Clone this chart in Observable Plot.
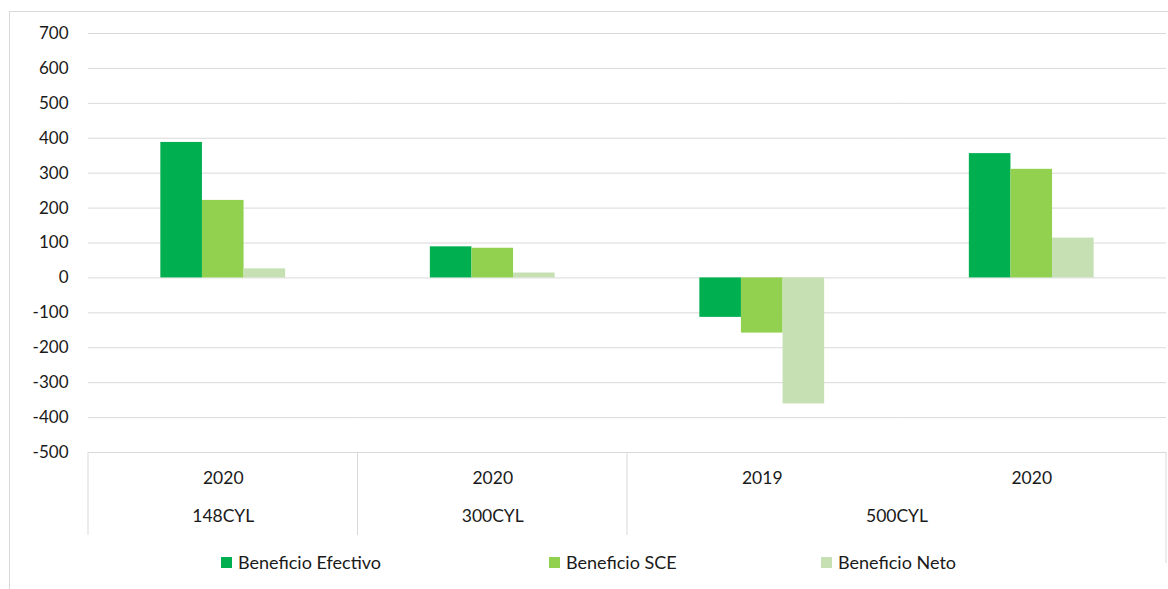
<!DOCTYPE html>
<html><head><meta charset="utf-8">
<script src="https://cdn.jsdelivr.net/npm/d3@7"></script>
<script src="https://cdn.jsdelivr.net/npm/@observablehq/plot@0.6"></script>
<style>
body{margin:0;background:#fff;font-family:Lato,"Open Sans",sans-serif;}
#wrap{position:relative;width:1168px;height:589px;overflow:hidden;}
#border{position:absolute;left:9px;top:11px;width:1300px;height:700px;border-left:1px solid #d9d9d9;border-top:1px solid #d9d9d9;}
#chart{position:absolute;left:0;top:0;}
#legend{position:absolute;left:221px;top:550px;display:flex;font-size:18px;color:#1a1a1a;line-height:24px;}
.item{display:flex;align-items:center;}
.sw{width:11px;height:11px;margin-right:6px;}
</style></head>
<body><div id="wrap"><div id="border"></div><div id="chart"></div><div id="legend"></div></div>
<script>
const groups = ["148CYL","300CYL","500CYL","500CYL"];
const years = ["2020","2020","2019","2020"];
const seriesNames = ["Beneficio Efectivo","Beneficio SCE","Beneficio Neto"];
const efectivo = [388, 89, -113, 356];
const sce = [222, 85, -158, 311];
const neto = [26, 14, -361, 114];
const yTicks = [-500,-400,-300,-200,-100,0,100,200,300,400,500,600,700];
const colors = ["#00B050","#92D050","#C6E0B4"];

const keys = groups.map((g,i)=>g+" "+years[i]);
const values = [efectivo, sce, neto];
const data = [];
keys.forEach((k,i)=>seriesNames.forEach((s,j)=>data.push({key:k, series:s, value:values[j][i]})));
const yearLabels = keys.map((k,i)=>({key:k, label:years[i]}));
const spans = [];
groups.forEach((g,i)=>{const last=spans[spans.length-1]; if(last && last.group===g) last.keys.push(keys[i]); else spans.push({group:g, keys:[keys[i]]});});
const singleCats = spans.filter(s=>s.keys.length%2===1).map(s=>({key:s.keys[(s.keys.length-1)/2], label:s.group}));
const pairCats = spans.filter(s=>s.keys.length%2===0).map(s=>({key:s.keys[s.keys.length/2-1], label:s.group}));

const plot = Plot.plot({
  width:1168, height:545, marginLeft:88, marginRight:2, marginTop:33, marginBottom:93,
  style:{fontFamily:"Lato", fontSize:"17px", color:"#1a1a1a", background:"transparent", overflow:"visible"},
  fx:{domain:keys, padding:0, axis:null, round:false},
  x:{domain:seriesNames, paddingInner:0, paddingOuter:1.739, axis:null, round:false},
  y:{domain:[-500,700], axis:null},
  color:{domain:seriesNames, range:colors},
  marks:[
    Plot.gridY(yTicks,{stroke:"#d9d9d9", strokeOpacity:1}),
    Plot.axisY(yTicks,{tickSize:0, tickPadding:20, fontSize:17, label:null, tickFormat:d=>String(d)}),
    Plot.barY(data,{fx:"key", x:"series", y:"value", fill:"series"}),
    Plot.text(yearLabels,{fx:"key", text:"label", frameAnchor:"bottom", dy:31, fontSize:17.5}),
    Plot.text(singleCats,{fx:"key", text:"label", frameAnchor:"bottom", dy:69, fontSize:17.5}),
    Plot.text(pairCats,{fx:"key", text:"label", frameAnchor:"bottom-right", textAnchor:"middle", dy:69, fontSize:17.5})
  ]
});
document.getElementById("chart").appendChild(plot);

// table dividers from the library's scales
const fxs = plot.scale("fx"), ys = plot.scale("y");
const band = d3.scaleBand().domain(fxs.domain).range(fxs.range).padding(0);
const yl = d3.scaleLinear().domain(ys.domain).range(ys.range);
const y0 = yl(yTicks[0]);
const g = d3.select(plot).append("g").attr("stroke","#d9d9d9").attr("stroke-width",1);
spans.forEach(s=>{const x=band(s.keys[0]); g.append("line").attr("x1",x).attr("x2",x).attr("y1",y0).attr("y2",y0+83);});
const xr = fxs.range[1];
g.append("line").attr("x1",xr).attr("x2",xr).attr("y1",y0).attr("y2",y0+111);

// legend
const itemWidths = [328, 272, null];
const leg = d3.select("#legend");
seriesNames.forEach((s,i)=>{
  const it = leg.append("div").attr("class","item");
  if(itemWidths[i]) it.style("width",itemWidths[i]+"px");
  it.append("div").attr("class","sw").style("background",colors[i]);
  it.append("span").text(s);
});
</script>
</body></html>
